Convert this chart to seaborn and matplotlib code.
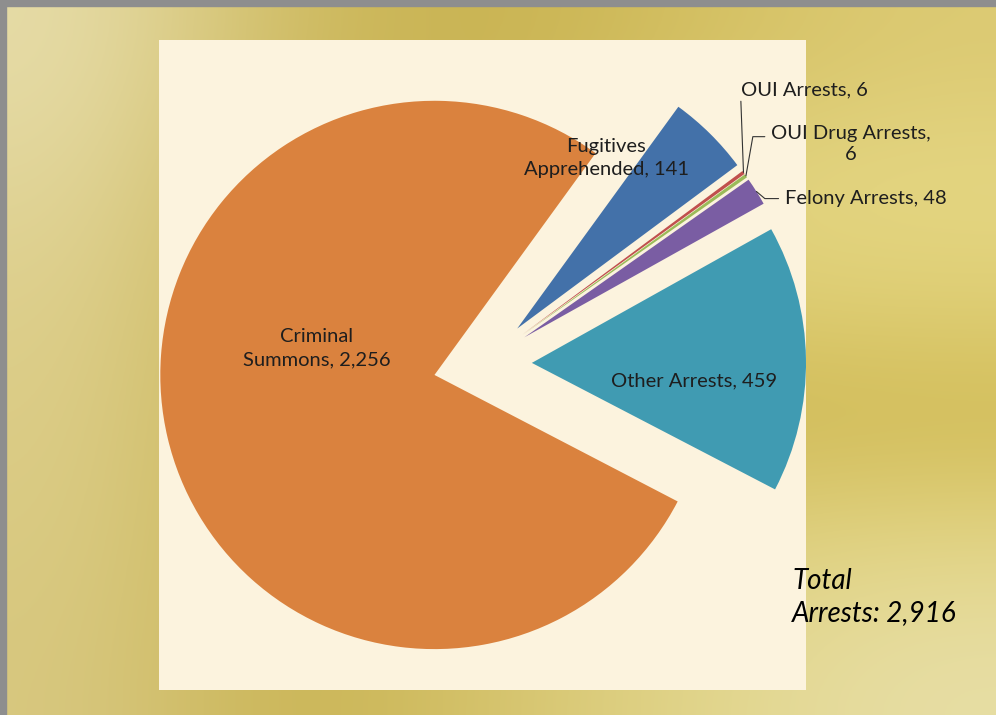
import numpy as np
import matplotlib
matplotlib.use("Agg")
import matplotlib.pyplot as plt
import seaborn as sns
from matplotlib.patches import Rectangle

# ==============================================
# DATOS
# ==============================================
categorias = ['Criminal Summons', 'Other Arrests', 'Felony Arrests',
              'OUI Drug Arrests', 'OUI Arrests', 'Fugitives Apprehended']
valores = [2256, 459, 48, 6, 6, 141]
etiquetas = ['Criminal\nSummons, 2,256', 'Other Arrests, 459', 'Felony Arrests, 48',
             'OUI Drug Arrests,\n6', 'OUI Arrests, 6', 'Fugitives\nApprehended, 141']
colores = ['#DA823E', '#409BB2', '#7A5DA3', '#9BBB59', '#C0504D', '#4371A9']
total_txt = 'Total\nArrests: 2,916'

sns.set_theme(style='white')
plt.rcParams['font.family'] = ['Lato', 'DejaVu Sans']

fig = plt.figure(figsize=(9.96, 7.15), dpi=100)

# fondo dorado con degradado (filas de arriba hacia abajo)
bg = fig.add_axes([0, 0, 1, 1], zorder=0)
grid = np.array([
    [[230, 220, 168], [206, 186, 95], [200, 178, 80], [212, 192, 98], [220, 202, 115]],
    [[226, 214, 155], [200, 178, 82], [202, 181, 86], [226, 212, 128], [229, 215, 132]],
    [[222, 208, 142], [198, 176, 78], [204, 183, 88], [222, 206, 116], [224, 208, 120]],
    [[220, 205, 136], [198, 176, 78], [206, 185, 90], [206, 183, 82], [208, 186, 84]],
    [[218, 203, 132], [199, 177, 78], [210, 190, 100], [222, 208, 126], [226, 212, 132]],
    [[216, 200, 128], [200, 178, 80], [214, 196, 110], [226, 214, 140], [231, 222, 165]],
]) / 255.0
bg.imshow(grid, extent=[0, 1, 0, 1], aspect='auto', interpolation='bicubic')
bg.set_xlim(0, 1)
bg.set_ylim(0, 1)
bg.axis('off')

# borde gris arriba / izquierda
fig.patches.append(Rectangle((0, 1 - 6 / 715), 1, 6 / 715, transform=fig.transFigure,
                             color='#8E8E8E', zorder=1))
fig.patches.append(Rectangle((0, 0), 6 / 996, 1, transform=fig.transFigure,
                             color='#8E8E8E', zorder=1))

# area del grafico
ax = fig.add_axes([159 / 996, 25 / 715, 647 / 996, 650 / 715], zorder=2)

wedges, _ = ax.pie(valores, colors=colores, startangle=54, explode=[0.18] * len(valores),
                   wedgeprops=dict(linewidth=0), radius=1, frame=True)
ax.set_facecolor('#FCF3DE')
ax.set_xlim(-1.18, 1.18)
ax.set_ylim(-1.19, 1.18)
ax.set_aspect('equal')
for s in ax.spines.values():
    s.set_visible(False)
ax.set_xticks([])
ax.set_yticks([])


def punta(w, f=1.0):
    ang = np.deg2rad((w.theta1 + w.theta2) / 2)
    cx, cy = w.center
    return (cx + f * w.r * np.cos(ang), cy + f * w.r * np.sin(ang))


fs = 14.5
col_txt = '#1E1E1E'
ax.text(-0.606, 0.058, etiquetas[0], ha='center', va='center', fontsize=fs, color=col_txt,
        linespacing=1.45)
ax.text(0.770, -0.062, etiquetas[1], ha='center', va='center', fontsize=fs, color=col_txt)
ax.text(0.452, 0.75, etiquetas[5], ha='center', va='center', fontsize=fs, color=col_txt,
        linespacing=1.45)

# etiquetas con lineas guia
ax.annotate(etiquetas[2], xy=punta(wedges[2]), xytext=(1.102, 0.602), ha='left', va='center',
            fontsize=fs, color=col_txt, annotation_clip=False,
            arrowprops=dict(arrowstyle='-', color='#333333', lw=0.8, shrinkA=2, shrinkB=0,
                            relpos=(0, 0.5),
                            connectionstyle='angle,angleA=180,angleB=140,rad=0'))
ax.annotate(etiquetas[3], xy=punta(wedges[3]), xytext=(1.343, 0.80), ha='center', va='center',
            fontsize=fs, color=col_txt, annotation_clip=False, linespacing=1.3,
            arrowprops=dict(arrowstyle='-', color='#333333', lw=0.8, shrinkA=2, shrinkB=0,
                            relpos=(0, 0.7),
                            connectionstyle='angle,angleA=180,angleB=80,rad=0'))
ax.annotate(etiquetas[4], xy=punta(wedges[4]), xytext=(0.942, 1.0), ha='left', va='center',
            fontsize=fs, color=col_txt, annotation_clip=False,
            arrowprops=dict(arrowstyle='-', color='#333333', lw=0.8, shrinkA=0, shrinkB=0,
                            relpos=(0, 0)))

fig.text(792 / 996, 1 - 597 / 715, total_txt, ha='left', va='center', fontsize=20,
         style='italic', color='black', linespacing=1.26, zorder=3)

fig.savefig('out.png', dpi=100)
plt.close(fig)
